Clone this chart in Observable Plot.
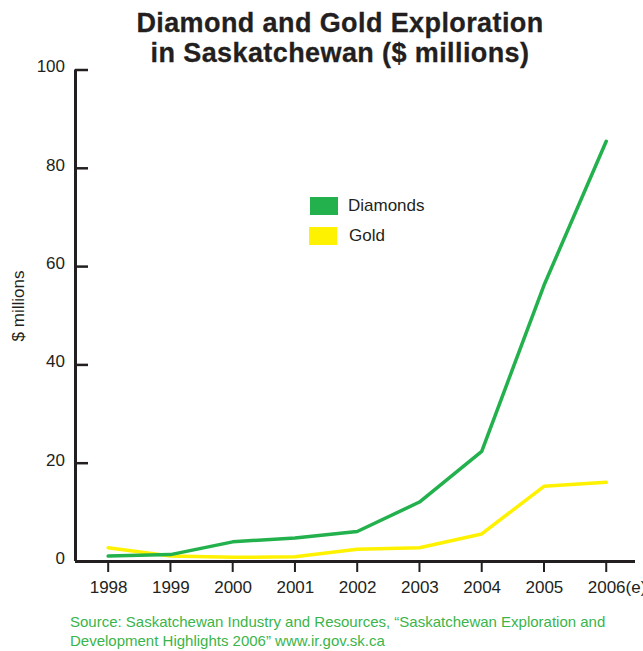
<!DOCTYPE html>
<html><head><meta charset="utf-8">
<script src="https://cdn.jsdelivr.net/npm/d3@7"></script>
<script src="https://cdn.jsdelivr.net/npm/@observablehq/plot@0.6"></script>
<style>
body{margin:0;background:#fff;}
#wrap{position:relative;width:643px;height:651px;overflow:hidden;font-family:"Liberation Sans",Arial,sans-serif;color:#231f20;}
#chart{position:absolute;left:0;top:0;}
#title{position:absolute;left:75px;width:530px;top:8px;text-align:center;font-weight:700;font-size:27px;line-height:30px;letter-spacing:0.4px;-webkit-text-stroke:0.3px #231f20;}
.sw{position:absolute;width:28px;height:18px;}
.lg{position:absolute;font-size:17px;line-height:20px;white-space:nowrap;}
#ylab{position:absolute;left:19px;top:306px;font-size:17px;white-space:nowrap;transform:translate(-50%,-50%) rotate(-90deg);}
#source{position:absolute;left:70px;top:613px;font-size:15px;line-height:18.5px;color:#3ab54a;white-space:nowrap;}
</style></head>
<body>
<div id="wrap">
  <div id="chart"></div>
  <div id="title">Diamond and Gold Exploration<br>in Saskatchewan ($ millions)</div>
  <div class="sw" id="sw0" style="left:310px;top:197px;"></div>
  <div class="lg" id="lg0" style="left:348px;top:196px;"></div>
  <div class="sw" id="sw1" style="left:309px;top:227px;"></div>
  <div class="lg" id="lg1" style="left:349px;top:226px;"></div>
  <div id="ylab">$ millions</div>
  <div id="source">Source: Saskatchewan Industry and Resources, “Saskatchewan Exploration and<br>Development Highlights 2006” www.ir.gov.sk.ca</div>
</div>
<script>
const years = [1998, 1999, 2000, 2001, 2002, 2003, 2004, 2005, 2006];
const yearLabels = ["1998", "1999", "2000", "2001", "2002", "2003", "2004", "2005", "2006(e)"];
const diamonds = [1.1, 1.4, 4.0, 4.8, 6.1, 12.1, 22.4, 56.2, 85.5];
const gold = [2.8, 1.1, 0.85, 0.95, 2.5, 2.8, 5.6, 15.3, 16.1];
const yTicks = [0, 20, 40, 60, 80, 100];
const seriesNames = ["Diamonds", "Gold"];
const seriesColors = ["#22b14c", "#fff200"];
const xDomain = [1997.475, 2006.47];
const yDomain = [0, 100];

const ink = "#231f20";
const rows = (vals) => years.map((y, i) => ({year: y, value: vals[i]}));

const chart = Plot.plot({
  width: 643,
  height: 651,
  marginLeft: 75,
  marginRight: 8,
  marginTop: 69.5,
  marginBottom: 90,
  style: {fontFamily: '"Liberation Sans", Arial, sans-serif', fontSize: "17px", color: ink, background: "transparent", overflow: "visible"},
  x: {domain: xDomain},
  y: {domain: yDomain},
  marks: [
    Plot.line(rows(gold), {x: "year", y: "value", stroke: seriesColors[1], strokeWidth: 3.5, strokeLinejoin: "miter"}),
    Plot.line(rows(diamonds), {x: "year", y: "value", stroke: seriesColors[0], strokeWidth: 3.5, strokeLinejoin: "miter"}),
    Plot.ruleY([yDomain[0]], {stroke: ink, strokeWidth: 3}),
    Plot.ruleX([xDomain[0]], {stroke: ink, strokeWidth: 3}),
    // y ticks (inward) and labels
    Plot.axisY(yTicks, {anchor: "left", label: null, tickSize: -13, tickFormat: () => "", strokeWidth: 2.5, stroke: ink}),
    Plot.axisY(yTicks, {anchor: "left", label: null, tickSize: 0, tickPadding: 10.5, fill: ink, dy: -3, fontSize: 17}),
    // x ticks and labels
    Plot.axisX(years, {anchor: "bottom", label: null, tickSize: 11, tickFormat: () => "", strokeWidth: 2, stroke: ink}),
    Plot.axisX(years, {anchor: "bottom", label: null, tickSize: 0, tickPadding: 19, fill: ink,
      tickFormat: (d) => yearLabels[years.indexOf(d)], textAnchor: "start", dx: -18.5, fontSize: 17})
  ]
});
document.getElementById("chart").appendChild(chart);

seriesNames.forEach((n, i) => {
  document.getElementById("sw" + i).style.background = seriesColors[i];
  document.getElementById("lg" + i).textContent = n;
});
</script>
</body></html>
